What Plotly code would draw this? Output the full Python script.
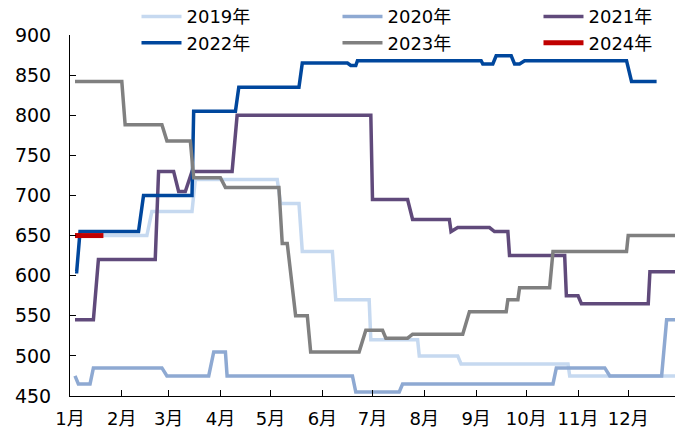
import plotly.graph_objects as go

YEAR = "2023-"

d2019 = ["01-04","02-16","02-19","03-15","03-17","05-05","05-07","05-18","05-20","06-07","06-09","06-29","06-30","07-28","07-29","08-21","08-23","10-26","10-27","12-31"]
v2019 = [650,650,680,680,720,720,690,690,630,630,570,570,520,520,500,500,490,490,475,475]

d2020 = ["01-04","01-06","01-13","01-15","02-25","02-28","03-25","03-28","04-04","04-05","06-19","06-21","07-17","07-19","10-17","10-19","11-17","11-20","12-21","12-24","12-31"]
v2020 = [475,465,465,485,485,475,475,505,505,475,475,455,455,465,465,485,485,475,475,545,545]

d2021 = ["01-04","01-15","01-18","02-21","02-23","03-04","03-07","03-11","03-15","04-08","04-11","06-30","07-01","07-22","07-25","08-16","08-17","08-21","09-09","09-12","09-20","09-21","10-24","10-25","11-01","11-03","12-13","12-14","12-29"]
v2021 = [545,545,620,620,730,730,705,705,730,730,800,800,695,695,670,670,655,660,660,655,655,625,625,575,575,565,565,605,605]

d2022 = ["01-04","01-05","01-07","02-11","02-14","03-15","03-16","04-10","04-12","05-18","05-20","06-16","06-18","06-21","06-22","09-04","09-05","09-11","09-13","09-22","09-24","09-27","09-30","11-30","12-03","12-18"]
v2022 = [605,605,655,655,700,700,805,805,835,835,865,865,862,862,868,868,864,864,874,874,864,864,868,868,842,842]

d2023 = ["01-04","02-01","02-03","02-25","02-28","03-14","03-16","04-01","04-04","05-06","05-08","05-11","05-16","05-23","05-25","06-23","06-27","07-07","07-09","07-22","07-25","08-24","08-28","09-19","09-20","09-26","09-27","10-15","10-17","11-30","12-01","12-29"]
v2023 = [842,842,788,788,768,768,722,722,710,710,640,640,550,550,505,505,532,532,522,522,527,527,555,555,570,570,585,585,630,630,650,650]

d2024 = ["01-04","01-21"]
v2024 = [650,650]

series_names = ["2019年","2020年","2021年","2022年","2023年","2024年"]
series_dates = [d2019, d2020, d2021, d2022, d2023, d2024]
series_vals = [v2019, v2020, v2021, v2022, v2023, v2024]
colors = ["#C6D9F0","#8EA9D2","#604A7B","#00479D","#808080","#C00000"]
widths = [3.5, 3.5, 3.5, 3.5, 3.5, 5]

month_ticks = [f"2023-{m:02d}-01" for m in range(1, 13)] + ["2024-01-01"]
month_labels = [f"{m}月" for m in range(1, 13)] + [""]

FONT = "DejaVu Sans, Noto Sans CJK SC, sans-serif"

fig = go.Figure()
for name, ds, vs, c, w in zip(series_names, series_dates, series_vals, colors, widths):
    fig.add_trace(go.Scatter(
        x=[YEAR + d for d in ds], y=vs, name=name, mode="lines",
        line=dict(color=c, width=w),
    ))

fig.update_layout(
    width=675, height=431,
    margin=dict(l=62, r=3, t=27, b=43, autoexpand=False),
    plot_bgcolor="white", paper_bgcolor="white",
    font=dict(family=FONT, size=18, color="black"),
    showlegend=True,
    legend=dict(
        orientation="h", xref="paper", yref="paper",
        x=0.109, y=1.102, xanchor="left", yanchor="top",
        entrywidth=146, entrywidthmode="pixels",
        font=dict(family=FONT, size=18),
        bgcolor="rgba(0,0,0,0)", itemwidth=40,
        tracegroupgap=0,
    ),
    xaxis=dict(
        type="date", range=["2023-01-01", "2024-01-01"],
        tickmode="array", tickvals=month_ticks, ticktext=month_labels,
        ticks="inside", ticklen=6, tickcolor="black",
        showline=True, linecolor="black", linewidth=1,
        showgrid=False, zeroline=False,
        tickfont=dict(family=FONT, size=18),
        ticklabelstandoff=6,
    ),
    yaxis=dict(
        range=[450, 900], tickmode="linear", tick0=450, dtick=50,
        ticks="inside", ticklen=6, tickcolor="black",
        showline=True, linecolor="black", linewidth=1,
        showgrid=False, zeroline=False,
        tickfont=dict(family=FONT, size=19),
        ticklabelstandoff=14,
    ),
)

fig.write_html("out.html")
